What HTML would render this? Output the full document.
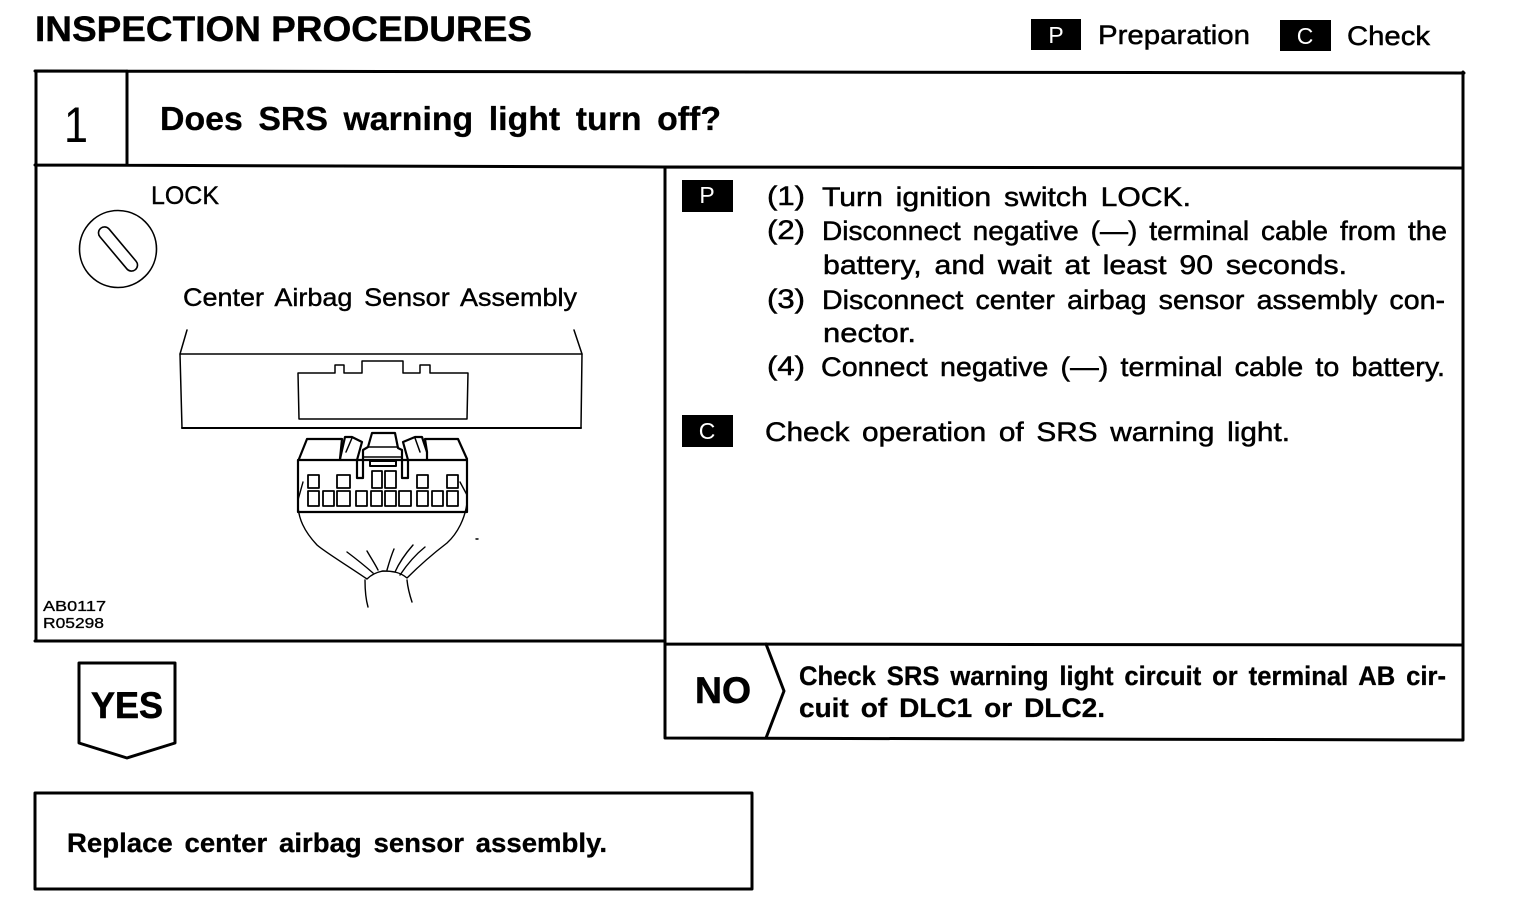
<!DOCTYPE html>
<html><head><meta charset="utf-8"><title>Inspection Procedures</title>
<style>
html,body{margin:0;padding:0;background:#fff}
svg{display:block}
text{font-family:"Liberation Sans",Arial,sans-serif;fill:#000}
.b{font-weight:bold}
.r{font-size:27px;stroke:#000;stroke-width:.5px;word-spacing:4px}
.s{font-size:25px;stroke:#000;stroke-width:.4px;word-spacing:4px}
.bb{font-size:27px;font-weight:bold;stroke:#000;stroke-width:.3px;word-spacing:4px}
.l{fill:none;stroke:#000;stroke-linejoin:round;stroke-linecap:round}
</style></head><body>
<svg width="1520" height="920" viewBox="0 0 1520 920" xmlns="http://www.w3.org/2000/svg">
<rect width="1520" height="920" fill="#fff"/>
<text x="35" y="41" class="b" font-size="35" stroke="#000" stroke-width=".4" textLength="497" lengthAdjust="spacingAndGlyphs">INSPECTION PROCEDURES</text>
<rect x="1031" y="19" width="50" height="31" fill="#000"/>
<text x="1056" y="43" font-size="23" text-anchor="middle" style="fill:#fff">P</text>
<text x="1098" y="44" class="r" textLength="152" lengthAdjust="spacingAndGlyphs">Preparation</text>
<rect x="1280" y="20" width="51" height="31" fill="#000"/>
<text x="1305" y="44" font-size="23" text-anchor="middle" style="fill:#fff">C</text>
<text x="1347" y="45" class="r" textLength="83" lengthAdjust="spacingAndGlyphs">Check</text>

<g class="l" stroke-width="3">
<path d="M35 71L1464 73M36 71V641M35 165L665 167L1463 168M127 71V165M35 641H665M665 167V738M1463 72V740M665 644L1462 645M665 738L1463 740"/>
<path d="M766 644L784 691L766 738"/>
<path d="M79 663H175V743L127 758L79 743Z"/>
<path d="M35 793H752V889H35Z"/>
</g>

<text x="64" y="142" font-size="50" textLength="24" lengthAdjust="spacingAndGlyphs">1</text>
<text x="160" y="130" class="b" font-size="33" stroke="#000" stroke-width=".3" style="word-spacing:6px" textLength="561" lengthAdjust="spacingAndGlyphs">Does SRS warning light turn off?</text>

<text x="151" y="204" class="s" textLength="68" lengthAdjust="spacingAndGlyphs">LOCK</text>
<circle cx="118" cy="249" r="38.5" class="l" stroke-width="1.6"/>
<rect x="-27" y="-6" width="54" height="12" rx="6" transform="translate(118,249) rotate(50)" class="l" stroke-width="1.6"/>
<text x="183" y="306" class="s" textLength="394" lengthAdjust="spacingAndGlyphs">Center Airbag Sensor Assembly</text>

<g class="l" stroke-width="1.5">
<path d="M187 330L180 354H582L574 330"/>
<path d="M180 354L182 428M582 354L581 428"/>
<path d="M182 428H581" stroke-width="2"/>
<path d="M298 373H335V365H344V373H362V361H403V373H420V365H430V373H468L467 419H299Z"/>
</g>
<g class="l" stroke-width="2.2">
<path d="M299 459L307 439H342L340 459M427 459V452L425 439H458L467 459"/>
<path d="M298 460H467V512H298Z"/>
<path d="M340 459L345 437H352L362 442L357 460V478H363V450L368 447L372 433H395L398 448L402 450V478H408V460L403 442L415 437H422L427 452"/>
<path d="M346 452L352 438M420 452L415 438" stroke-width="1.5"/>
<path d="M364 457H402M368 447H398" stroke-width="1.6"/>
<rect x="370" y="461" width="26" height="5" stroke-width="2"/>
</g>
<g class="l" stroke-width="1.8">
<rect x="308" y="475" width="11" height="13"/><rect x="337" y="475" width="13" height="13"/>
<rect x="372" y="471" width="10" height="17"/><rect x="385" y="471" width="11" height="17"/>
<rect x="417" y="475" width="11" height="13"/><rect x="447" y="475" width="11" height="13"/>
<rect x="308" y="491" width="11" height="15"/><rect x="323" y="491" width="11" height="15"/><rect x="337" y="491" width="13" height="15"/>
<rect x="356" y="491" width="11" height="15"/><rect x="371" y="491" width="11" height="15"/><rect x="385" y="491" width="11" height="15"/><rect x="399" y="491" width="12" height="15"/>
<rect x="417" y="491" width="11" height="15"/><rect x="432" y="491" width="11" height="15"/><rect x="447" y="491" width="11" height="15"/>
</g>
<g class="l" stroke-width="1.4">
<path d="M303 482L298 500M460 482L467 495"/>
<path d="M298 507C299 518 303 530 317 545C325 552 345 564 367 579C372 574 377 572 383 571C392 571 400 572 407 578C415 570 430 556 447 543C458 533 465 518 467 503"/>
<path d="M365 580C365 590 366 600 368 607M407 580C408 590 410 596 412 602"/>
<path d="M347 552C355 558 365 566 373 573M367 551C371 558 375 564 378 570M394 549C391 556 389 563 387 570M413 545C406 553 399 563 395 572M425 547C415 555 406 566 400 575"/>
<path d="M476 539H478"/>
</g>

<text x="43" y="611" font-size="15" textLength="63" stroke="#000" stroke-width=".3" lengthAdjust="spacingAndGlyphs">AB0117</text>
<text x="43" y="628" font-size="15" textLength="61" stroke="#000" stroke-width=".3" lengthAdjust="spacingAndGlyphs">R05298</text>

<rect x="682" y="180" width="51" height="32" fill="#000"/>
<text x="707" y="203" font-size="23" text-anchor="middle" style="fill:#fff">P</text>
<text x="767" y="205" class="r" textLength="38" lengthAdjust="spacingAndGlyphs">(1)</text>
<text x="822" y="206" class="r" textLength="369" lengthAdjust="spacingAndGlyphs">Turn ignition switch LOCK.</text>
<text x="767" y="239" class="r" textLength="38" lengthAdjust="spacingAndGlyphs">(2)</text>
<text x="822" y="240" class="r" textLength="625" lengthAdjust="spacingAndGlyphs">Disconnect negative (—) terminal cable from the</text>
<text x="823" y="274" class="r" textLength="524" lengthAdjust="spacingAndGlyphs">battery, and wait at least 90 seconds.</text>
<text x="767" y="308" class="r" textLength="38" lengthAdjust="spacingAndGlyphs">(3)</text>
<text x="822" y="309" class="r" textLength="623" lengthAdjust="spacingAndGlyphs">Disconnect center airbag sensor assembly con-</text>
<text x="823" y="342" class="r" textLength="93" lengthAdjust="spacingAndGlyphs">nector.</text>
<text x="767" y="375" class="r" textLength="38" lengthAdjust="spacingAndGlyphs">(4)</text>
<text x="821" y="376" class="r" textLength="624" lengthAdjust="spacingAndGlyphs">Connect negative (—) terminal cable to battery.</text>
<rect x="682" y="415" width="51" height="32" fill="#000"/>
<text x="707" y="439" font-size="23" text-anchor="middle" style="fill:#fff">C</text>
<text x="765" y="441" class="r" textLength="525" lengthAdjust="spacingAndGlyphs">Check operation of SRS warning light.</text>

<text x="695" y="703" class="b" font-size="37" stroke="#000" stroke-width=".6" textLength="56" lengthAdjust="spacingAndGlyphs">NO</text>
<text x="799" y="685" class="bb" textLength="647" lengthAdjust="spacingAndGlyphs">Check SRS warning light circuit or terminal AB cir-</text>
<text x="799" y="717" class="bb" textLength="306" lengthAdjust="spacingAndGlyphs">cuit of DLC1 or DLC2.</text>

<text x="91" y="718" class="b" font-size="37" stroke="#000" stroke-width=".6" textLength="72" lengthAdjust="spacingAndGlyphs">YES</text>
<text x="67" y="852" class="bb" textLength="540" lengthAdjust="spacingAndGlyphs">Replace center airbag sensor assembly.</text>
</svg>
</body></html>
